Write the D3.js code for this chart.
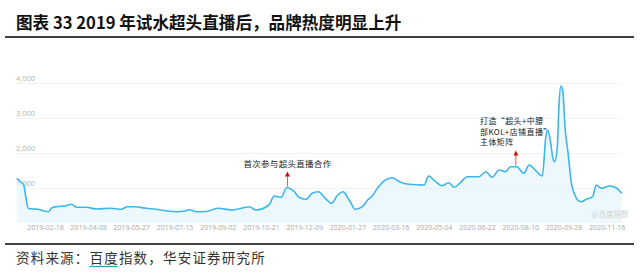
<!DOCTYPE html>
<html>
<head>
<meta charset="utf-8">
<script src="https://cdn.jsdelivr.net/npm/d3@7"></script>
<style>
  body { margin: 0; background: #fff; }
  svg { display: block; }
</style>
</head>
<body>
<div id="chart"></div>
<script>
// Baidu index, weekly-ish readings
var dates = ["2019-01-17","2019-01-21","2019-01-25","2019-01-27","2019-01-30","2019-02-04","2019-02-10","2019-02-16",
  "2019-02-22","2019-02-26","2019-03-03","2019-03-14","2019-03-20","2019-03-26","2019-04-06","2019-04-17",
  "2019-05-03","2019-05-16","2019-05-22","2019-05-31","2019-06-13","2019-06-24","2019-07-05","2019-07-17",
  "2019-07-28","2019-08-01","2019-08-09","2019-08-20","2019-09-02","2019-09-19","2019-10-08","2019-10-15",
  "2019-10-30","2019-11-05","2019-11-13","2019-11-19","2019-11-28","2019-12-03","2019-12-11","2019-12-18",
  "2019-12-25","2020-01-02","2020-01-09","2020-01-16","2020-01-22","2020-01-29","2020-02-05","2020-02-13",
  "2020-02-19","2020-02-24","2020-03-01","2020-03-09","2020-03-18","2020-03-26","2020-04-06","2020-04-18",
  "2020-04-23","2020-04-28","2020-05-06","2020-05-13","2020-05-21","2020-05-27","2020-06-03","2020-06-11",
  "2020-06-24","2020-07-02","2020-07-09","2020-07-17","2020-07-24","2020-07-30","2020-08-06","2020-08-14",
  "2020-08-20","2020-08-27","2020-09-04","2020-09-08","2020-09-10","2020-09-13","2020-09-16","2020-09-18",
  "2020-09-21","2020-09-23","2020-09-25","2020-09-27","2020-09-30","2020-10-03","2020-10-07","2020-10-11",
  "2020-10-14","2020-10-18","2020-10-24","2020-10-31","2020-11-04","2020-11-10","2020-11-19","2020-11-27",
  "2020-12-03"];
var values = [1277,1180,1086,800,420,400,395,350,
  323,437,466,494,534,449,449,400,
  420,391,466,466,420,391,351,323,
  351,380,323,330,420,371,466,371,
  514,771,734,1009,894,734,677,849,
  894,706,563,800,894,657,391,466,
  657,771,991,1209,1294,1180,1106,1090,
  1086,1343,1180,1066,1151,1020,1151,1323,
  1323,1466,1306,1514,1466,1609,1609,1420,
  1657,1514,1343,2466,2657,2371,1849,1751,
  2180,3420,3914,3800,2657,2037,1134,800,
  657,609,677,751,1086,991,1057,1000,
  849];
var xTicks = ["2019-02-18","2019-04-08","2019-05-27","2019-07-15","2019-09-02","2019-10-21","2019-12-09",
  "2020-01-27","2020-03-16","2020-05-04","2020-06-22","2020-08-10","2020-09-28","2020-11-16"];
var yTicks = [1000, 2000, 3000, 4000];

var noteDates = ["2019-11-20", "2020-08-05"];
var noteValues = [1040, 1640];
var noteLines = [["首次参与超头直播合作"], ["打造“超头+中腰", "部KOL+店铺直播”", "主体矩阵"]];

var title = "图表 33 2019 年试水超头直播后，品牌热度明显上升";

var W = 640, H = 277;
var parse = d3.timeParse("%Y-%m-%d");
var data = dates.map(function(d, i) { return {date: parse(d), value: values[i]}; });

var svg = d3.select("#chart").append("svg")
  .attr("width", W).attr("height", H);

var cjk = "'Noto Sans CJK SC', 'Noto Sans', sans-serif";

// title + rules
svg.append("text")
  .attr("x", 16).attr("y", 29)
  .style("font-family", cjk)
  .style("font-weight", "bold")
  .style("font-size", "16.6px")
  .style("fill", "#111")
  .text(title);
svg.append("line").attr("x1", 5).attr("x2", 634).attr("y1", 37).attr("y2", 37)
  .style("stroke", "#000").style("stroke-width", 1.6);
svg.append("line").attr("x1", 5).attr("x2", 634).attr("y1", 244).attr("y2", 244)
  .style("stroke", "#000").style("stroke-width", 1.6);

var x = d3.scaleTime()
  .domain([parse("2019-01-17"), parse("2020-12-03")])
  .range([16.7, 621.7]);
var y = d3.scaleLinear()
  .domain([0, 4000])
  .range([223, 83]);

// grid
svg.append("g").selectAll("line")
  .data(yTicks).enter().append("line")
  .attr("x1", 16).attr("x2", 622)
  .attr("y1", function(d) { return y(d) + 0.5; })
  .attr("y2", function(d) { return y(d) + 0.5; })
  .style("stroke", "#f2f2f2");

svg.append("g").selectAll("text")
  .data(yTicks).enter().append("text")
  .attr("x", 16)
  .attr("y", function(d) { return y(d) - 2.5; })
  .style("font-family", "'Open Sans', sans-serif")
  .style("font-size", "7.5px")
  .style("fill", "#b5b5b5")
  .text(d3.format(","));

// x axis labels
var xAxis = d3.axisBottom(x)
  .tickValues(xTicks.map(parse))
  .tickFormat(d3.timeFormat("%Y-%m-%d"))
  .tickSize(0)
  .tickPadding(0);
var gx = svg.append("g").attr("transform", "translate(0,225)").call(xAxis);
gx.select(".domain").remove();
gx.selectAll("text")
  .attr("dy", "0.71em")
  .style("font-family", "'Open Sans', sans-serif")
  .style("font-size", "7px")
  .style("fill", "#a8a8a8");

// area + line
var area = d3.area()
  .x(function(d) { return x(d.date); })
  .y0(y(0))
  .y1(function(d) { return y(d.value); })
  .curve(d3.curveMonotoneX);
var line = d3.line()
  .x(function(d) { return x(d.date); })
  .y(function(d) { return y(d.value); })
  .curve(d3.curveMonotoneX);

svg.append("path").datum(data)
  .attr("d", area)
  .style("fill", "#e6f5fc")
  .style("opacity", 0.7);
svg.append("path").datum(data)
  .attr("d", line)
  .style("fill", "none")
  .style("stroke", "#3db6e8")
  .style("stroke-width", 1.6);

// watermark
svg.append("text")
  .attr("x", 610).attr("y", 217)
  .attr("text-anchor", "middle")
  .style("font-family", cjk)
  .style("font-size", "7.5px")
  .style("fill", "#cfcfcf")
  .text("@百度指数");

// annotations
var notes = svg.append("g");
noteDates.forEach(function(nd, i) {
  var ax = x(parse(nd)), ay = y(noteValues[i]);
  notes.append("line")
    .attr("x1", ax).attr("x2", ax)
    .attr("y1", ay).attr("y2", ay - 11)
    .style("stroke", "#e03030").style("stroke-width", 0.8);
  notes.append("path")
    .attr("d", "M" + (ax - 2.5) + "," + (ay - 10) + "L" + ax + "," + (ay - 15) + "L" + (ax + 2.5) + "," + (ay - 10) + "Z")
    .style("fill", "#d01010");
});
notes.append("text")
  .attr("x", x(parse(noteDates[0]))).attr("y", 167)
  .attr("text-anchor", "middle")
  .style("font-family", cjk)
  .style("font-size", "8.5px")
  .style("letter-spacing", "0.3px")
  .style("fill", "#222")
  .text(noteLines[0][0]);
notes.append("g").selectAll("text")
  .data(noteLines[1]).enter().append("text")
  .attr("x", 480)
  .attr("y", function(d, i) { return 124 + i * 10.6; })
  .style("font-family", cjk)
  .style("font-size", "8px")
  .style("letter-spacing", "0.4px")
  .style("fill", "#222")
  .text(function(d) { return d; });

// source
var src = svg.append("text")
  .attr("x", 16).attr("y", 263)
  .style("font-family", cjk)
  .style("font-size", "13.5px")
  .style("letter-spacing", "1.2px")
  .style("fill", "#333");
src.append("tspan").text("资料来源：");
src.append("tspan").text("百度");
src.append("tspan").text("指数，华安证券研究所");
var bx = 16 + 5 * 14.7;
svg.append("line").attr("x1", bx).attr("x2", bx + 28).attr("y1", 266.5).attr("y2", 266.5)
  .style("stroke", "#2aa3b8").style("stroke-width", 1.3);
</script>
</body>
</html>
